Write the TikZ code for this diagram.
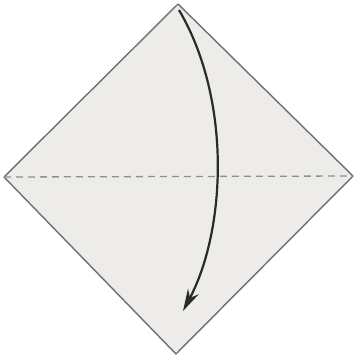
\documentclass[tikz,border=0pt]{standalone}
\usetikzlibrary{arrows.meta}
\definecolor{paper}{HTML}{EEECE8}
\definecolor{edge}{HTML}{6E6E7A}
\definecolor{crease}{HTML}{8E8E98}
\definecolor{ink}{HTML}{2A2A2A}
\tikzset{
  sheet/.style={fill=paper,draw=edge,line width=1.4pt,line join=round},
  valley/.style={draw=crease,line width=1.3pt,dash pattern=on 7pt off 5pt},
  foldarrow/.style={draw=ink,line width=2.2pt,-{Stealth[length=22pt,width=12pt]}}
}
\begin{document}
\begin{tikzpicture}[x=1pt,y=-1pt]
\useasboundingbox (0,0) rectangle (355,360);
\coordinate (T) at (178,4);
\coordinate (L) at (4,177);
\coordinate (R) at (353,176);
\coordinate (B) at (176,354);
\draw[sheet] (T) -- (R) -- (B) -- (L) -- cycle;
\draw[valley] (L) -- (R);
\coordinate (A0) at (179,10);
\coordinate (A1) at (183,311);
\draw[foldarrow] (A0) .. controls (232,100) and (226,230) .. (A1);
\end{tikzpicture}
\end{document}
